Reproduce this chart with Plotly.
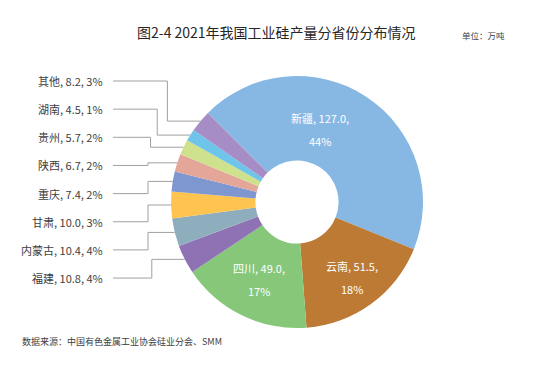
import math
import plotly.graph_objects as go

# ---- data ----
provinces = ["新疆", "云南", "四川", "福建", "内蒙古", "甘肃", "重庆", "陕西", "贵州", "湖南", "其他"]
output_10kt = [127.0, 51.5, 49.0, 10.8, 10.4, 10.0, 7.4, 6.7, 5.7, 4.5, 8.2]
share_pct = [44, 18, 17, 4, 4, 3, 2, 2, 2, 1, 3]
colors = ["#86B8E3", "#BC7A35", "#86C77A", "#8E72B4", "#8FAEBD", "#FEC44F",
          "#7F97D1", "#E4A698", "#CEE18C", "#6EC4E9", "#A78DC6"]
title_text = "图2-4 2021年我国工业硅产量分省份分布情况"
unit_text = "单位：万吨"
source_text = "数据来源：中国有色金属工业协会硅业分会、SMM"

# ---- layout parameters ----
W, H = 549, 367
CX, CY, R = 297, 202, 126       # pie centre & radius (px)
HOLE = 0.33
ROT = -45                       # start angle, clockwise from 12 o'clock
FONT = "Noto Sans CJK SC"
inside_set = {"新疆": (0.60, -16), "云南": (0.74, 0), "四川": (0.68, 0)}  # radius frac, angle nudge
LBL_TEXT_RIGHT = 105
LINE_START = 113
ELBOW_MIN = 148
LAST_SEG = 33
LBL_TOP, LBL_STEP = 81, 28.15

def px(x):
    return x / W

def py(y):
    return 1 - y / H

fig = go.Figure()
fig.add_trace(go.Pie(
    labels=provinces, values=output_10kt, sort=False, direction="clockwise",
    rotation=ROT, hole=HOLE, marker=dict(colors=colors, line=dict(width=0)),
    textinfo="none", hoverinfo="label+value+percent", showlegend=False,
    domain=dict(x=[px(CX - R), px(CX + R)], y=[py(CY + R), py(CY - R)]),
))

total = sum(output_10kt)
angles = []
a = ROT
for v in output_10kt:
    span = v / total * 360
    angles.append(a + span / 2)
    a += span

annotations = []
shapes = []

# inside labels
for name, v, p, ang in zip(provinces, output_10kt, share_pct, angles):
    if name in inside_set:
        frac, nudge = inside_set[name]
        t = math.radians(ang + nudge)
        x = CX + R * frac * math.sin(t)
        y = CY - R * frac * math.cos(t)
        for txt, dy in ((f"{name}, {v:.1f},", -11.5), (f"{p}%", 11.5)):
            annotations.append(dict(
                x=px(x), y=py(y + dy), xref="paper", yref="paper", text=txt,
                showarrow=False, xanchor="center", yanchor="middle",
                font=dict(family=FONT, size=11, color="white")))

# outside labels on the left with leader lines
small = [(n, v, p, ang) for n, v, p, ang in zip(provinces, output_10kt, share_pct, angles)
         if n not in inside_set]
small = small[::-1]   # top-to-bottom order
for i, (name, v, p, ang) in enumerate(small):
    ly = LBL_TOP + i * LBL_STEP
    t = math.radians(ang)
    ex = CX + R * math.sin(t)
    ey = CY - R * math.cos(t)
    elbow = max(ELBOW_MIN, ex - LAST_SEG)
    annotations.append(dict(
        x=px(LBL_TEXT_RIGHT), y=py(ly), xref="paper", yref="paper",
        text=f"{name}, {v:.1f}, {p}%", showarrow=False, xanchor="right", yanchor="middle",
        font=dict(family=FONT, size=11, color="#404040")))
    path = f"M {px(LINE_START)} {py(ly)} L {px(elbow)} {py(ly)} L {px(elbow)} {py(ey)} L {px(ex)} {py(ey)}"
    shapes.append(dict(type="path", xref="paper", yref="paper", path=path,
                       line=dict(color="#A0A0A0", width=1), layer="below"))

annotations.append(dict(x=px(276), y=py(32), xref="paper", yref="paper", text=title_text,
                        showarrow=False, xanchor="center", yanchor="middle",
                        font=dict(family=FONT, size=14, color="#262626")))
annotations.append(dict(x=px(507), y=py(35), xref="paper", yref="paper", text=unit_text,
                        showarrow=False, xanchor="right", yanchor="middle",
                        font=dict(family=FONT, size=8.5, color="#404040")))
annotations.append(dict(x=px(20), y=py(341), xref="paper", yref="paper", text=source_text,
                        showarrow=False, xanchor="left", yanchor="middle",
                        font=dict(family=FONT, size=9, color="#404040")))

fig.update_layout(
    width=W, height=H, margin=dict(l=0, r=0, t=0, b=0),
    paper_bgcolor="white", plot_bgcolor="white",
    annotations=annotations, shapes=shapes,
    font=dict(family=FONT),
)
fig.write_html("out.html", config={"displayModeBar": False},
               post_script="document.body.style.margin='0';document.body.style.overflow='hidden';")
